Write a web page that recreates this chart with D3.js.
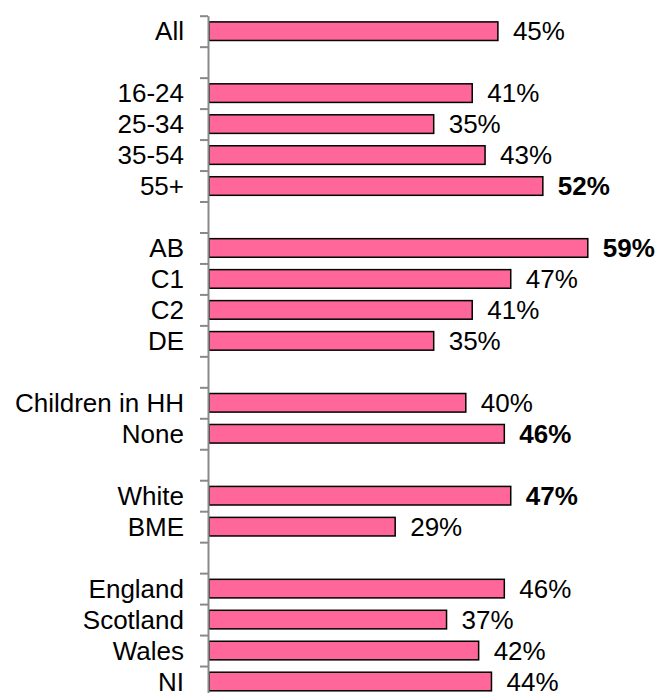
<!DOCTYPE html>
<html>
<head>
<meta charset="utf-8">
<script src="https://cdn.jsdelivr.net/npm/d3@7"></script>
<style>
  html, body { margin: 0; padding: 0; background: #fff; }
  svg { display: block; font-family: "Liberation Sans", Arial, sans-serif; }
</style>
</head>
<body>
<script>
// rows of the chart, null = blank spacer row between groups
var labels = ["All", null, "16-24", "25-34", "35-54", "55+", null, "AB", "C1", "C2", "DE", null,
              "Children in HH", "None", null, "White", "BME", null, "England", "Scotland", "Wales", "NI"];
var values = [45, null, 41, 35, 43, 52, null, 59, 47, 41, 35, null,
              40, 46, null, 47, 29, null, 46, 37, 42, 44];
// labels shown in bold (significantly higher)
var boldRows = ["55+", "AB", "None", "White"];

var width = 657, height = 693;
var svg = d3.select("body").append("svg").attr("width", width).attr("height", height);
var chartGroup = svg.append("g");

var idx = d3.range(labels.length);

var x = d3.scaleLinear().domain([0, 70]).range([209, 209 + 70 * 6.42]);
var y = d3.scaleBand().domain(idx).range([15.7, 697]).paddingInner(0.4).paddingOuter(0.2);
// boundaries between rows, for the tick marks
var yEdge = d3.scaleLinear().domain([0, labels.length]).range([15.7, 697]);

// category labels
var labAxis = chartGroup.append("g")
    .attr("transform", "translate(209,0)")
    .call(d3.axisLeft(y).tickSize(0).tickPadding(25)
        .tickFormat(function(i){ return labels[i] || ""; }));
labAxis.select(".domain").remove();
labAxis.selectAll("text")
    .attr("font-size", "26px")
    .attr("font-family", "'Liberation Sans', Arial, sans-serif")
    .attr("fill", "#000")
    .attr("dy", "0.35em");

// bars
var rows = idx.filter(function(i){ return values[i] != null; });
chartGroup.append("g")
    .selectAll("rect")
    .data(rows)
    .enter().append("rect")
        .attr("x", x(0))
        .attr("y", function(i){ return y(i); })
        .attr("width", function(i){ return x(values[i]) - x(0); })
        .attr("height", y.bandwidth())
        .attr("fill", "#FF6699")
        .attr("stroke", "#000")
        .attr("stroke-width", 1.5);

// value labels
chartGroup.append("g")
    .selectAll("text")
    .data(rows)
    .enter().append("text")
        .attr("x", function(i){ return x(values[i]) + 15; })
        .attr("y", function(i){ return y(i) + y.bandwidth() / 2; })
        .attr("dy", "0.35em")
        .attr("font-size", "26px")
        .attr("font-weight", function(i){ return boldRows.indexOf(labels[i]) >= 0 ? "bold" : "normal"; })
        .text(function(i){ return values[i] + "%"; });

// axis line with ticks between rows
var axis = chartGroup.append("g")
    .attr("transform", "translate(208,0)")
    .call(d3.axisLeft(yEdge).tickValues(d3.range(labels.length + 1)).tickSize(8).tickSizeOuter(0).tickFormat(""));
axis.select(".domain").attr("stroke", "#898989").attr("stroke-width", 2);
axis.selectAll(".tick line").attr("stroke", "#898989").attr("stroke-width", 2);
</script>
</body>
</html>
